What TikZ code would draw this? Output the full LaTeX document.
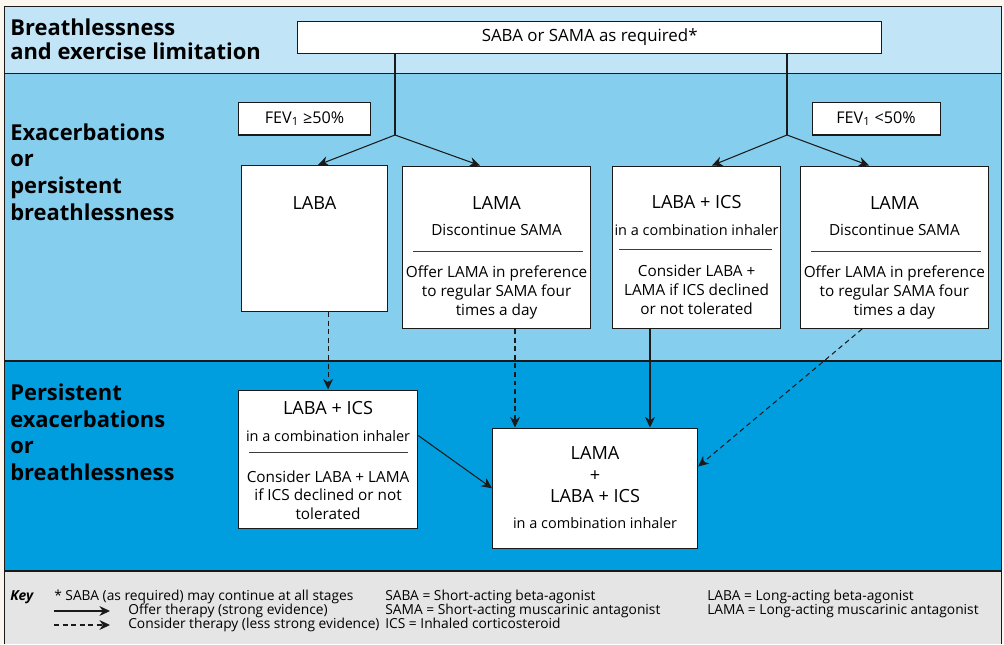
\documentclass[tikz,border=0pt]{standalone}
\usepackage{fontspec}
\setmainfont{Open Sans}
\usepackage{xcolor}
\definecolor{cPage}{HTML}{FBF7EE}
\definecolor{cBandA}{HTML}{C1E5F6}
\definecolor{cBandB}{HTML}{86CEEE}
\definecolor{cBandC}{HTML}{009DDF}
\definecolor{cKey}{HTML}{E5E5E5}
\definecolor{cLine}{HTML}{1A1A1A}
\usepackage{tikz}
\usetikzlibrary{positioning,arrows.meta,calc}
\newcommand{\keyfont}{\fontsize{9.8}{9.9}\selectfont\lineskiplimit-5pt\relax}
\tikzset{
  node-box/.style={draw=cLine,line width=0.8pt,fill=white,anchor=north west,inner sep=0pt},
  node-head/.style={anchor=base,inner sep=0pt,align=center,font=\fontsize{12.9}{15.2}\selectfont},
  node-note/.style={anchor=base,inner sep=0pt,align=center,font=\fontsize{10.9}{13.2}\selectfont},
  node-combi/.style={node-note,font=\fontsize{10.3}{13.2}\selectfont},
  band-title/.style={anchor=base west,inner sep=0pt,align=left,font=\bfseries\fontsize{15.6}{18.9}\selectfont},
  key-text/.style={anchor=base west,inner sep=0pt,align=left,font=\keyfont},
  rule-line/.style={draw=cLine!85,line width=0.7pt},
  band-line/.style={draw=cLine,line width=0.8pt},
  arrow/.style={-{Stealth[length=7.5pt,width=7pt,inset=2.4pt]},line width=0.75pt,draw=cLine},
  arrow-consider/.style={arrow,dash pattern=on 3.5pt off 2.6pt},
}

\begin{document}
\begin{tikzpicture}[x=0.025cm,y=-0.025cm]
  \useasboundingbox (0,0) rectangle (1004,644);
  % bands
  \fill[cPage] (0,0) rectangle (1004,644);
  \fill[cBandA] (4.7,6.7) rectangle (1001.7,73.3);
  \fill[cBandB] (4.7,73.3) rectangle (1001.7,361);
  \fill[cBandC] (4.7,361) rectangle (1001.7,571);
  \fill[cKey] (4.7,571) rectangle (1001.7,644);
  \draw[band-line] (4.7,644) -- (4.7,6.7) -- (1001.7,6.7) -- (1001.7,644);
  \foreach \y in {73.3,361,571}
    \draw[band-line] (4.7,\y) -- (1001.7,\y);

  % band titles (base = last line)
  \node[band-title,font=\bfseries\fontsize{15.6}{17.2}\selectfont] (title-a) at (10,59.3) {Breathlessness\\and exercise limitation};
  \node[band-title] (title-b) at (10,220) {Exacerbations\\or\\persistent\\breathlessness};
  \node[band-title] (title-c) at (10,480.2) {Persistent\\exacerbations\\or\\breathlessness};

  % first step
  \node[node-box,minimum width=146mm,minimum height=7.9mm,font=\fontsize{12}{14}\selectfont] (saba) at (297,21) {SABA or SAMA as required*};
  \node[node-box,minimum width=33mm,minimum height=8.1mm,font=\fontsize{11.5}{14}\selectfont] (fev-hi) at (238,102) {FEV\textsubscript{1} ≥50\%};
  \node[node-box,minimum width=32mm,minimum height=8.1mm,font=\fontsize{11.5}{14}\selectfont] (fev-lo) at (811.5,102) {FEV\textsubscript{1} <50\%};

  % second step
  \node[node-box,minimum width=36.4mm,minimum height=36.5mm] (laba) at (241,165) {};
  \node[node-box,minimum width=47mm,minimum height=40.6mm] (lama-a) at (402,165.5) {};
  \node[node-box,minimum width=42mm,minimum height=40.6mm] (labaics-a) at (612,165.5) {};
  \node[node-box,minimum width=46.9mm,minimum height=40.6mm] (lama-b) at (800,165.5) {};

  \node[node-head] (laba-h) at ($(laba.north)+(0,44)$) {LABA};
  \foreach \b in {lama-a,lama-b} {
    \node[node-head] (\b-h) at ($(\b.north)+(0,43.5)$) {LAMA};
    \node[node-note] (\b-s) at ($(\b.north)+(0,70)$) {Discontinue SAMA};
    \draw[rule-line] ($(\b.north west)+(11,85.5)$) -- ($(\b.north east)+(-8,85.5)$);
    \node[node-note] (\b-n) at ($(\b.north)+(0,149.5)$) {Offer LAMA in preference\\to regular SAMA four\\times a day};
  }
  \node[node-head] (labaics-a-h) at ($(labaics-a.north)+(0,43.2)$) {LABA + ICS};
  \node[node-combi] (labaics-a-s) at ($(labaics-a.north)+(0,69.5)$) {in a combination inhaler};
  \draw[rule-line] ($(labaics-a.north west)+(7,84)$) -- ($(labaics-a.north east)+(-9,84)$);
  \node[node-note] (labaics-a-n) at ($(labaics-a.north)+(0,148.5)$) {Consider LABA +\\LAMA if ICS declined\\or not tolerated};

  % third step
  \node[node-box,minimum width=44.75mm,minimum height=34.6mm] (labaics-b) at (238,389.5) {};
  \node[node-box,minimum width=51.25mm,minimum height=30.1mm] (triple) at (492,427.5) {};

  \node[node-head] (labaics-b-h) at ($(labaics-b.north)+(0,25)$) {LABA + ICS};
  \node[node-combi] (labaics-b-s) at ($(labaics-b.north)+(0,51.5)$) {in a combination inhaler};
  \draw[rule-line] ($(labaics-b.north west)+(11,63)$) -- ($(labaics-b.north east)+(-10,63)$);
  \node[node-note] (labaics-b-n) at ($(labaics-b.north)+(0,129.8)$) {Consider LABA + LAMA\\if ICS declined or not\\tolerated};
  \node[node-head] (triple-h) at ($(triple.north)+(0,75.2)$) {LAMA\\+\\LABA + ICS};
  \node[node-combi] (triple-s) at ($(triple.north)+(0,101)$) {in a combination inhaler};

  % connectors
  \coordinate (split-a) at (395,135);
  \coordinate (split-b) at (787,135);
  \draw[band-line,line width=0.75pt] (saba.south -| split-a) -- (split-a);
  \draw[band-line,line width=0.75pt] (saba.south -| split-b) -- (split-b);
  \draw[arrow] (split-a) -- ($(laba.north west)+(77,0)$);
  \draw[arrow] (split-a) -- ($(lama-a.north west)+(78,0)$);
  \draw[arrow] (split-b) -- ($(labaics-a.north west)+(100,0)$);
  \draw[arrow] (split-b) -- ($(lama-b.north west)+(69,0)$);

  \coordinate (in-a) at ($(triple.north west)+(23,0)$);
  \coordinate (in-b) at ($(triple.north west)+(158,0)$);
  \draw[arrow-consider] (laba.south -| labaics-b.north) -- (labaics-b.north);
  \draw[arrow-consider] (lama-a.south -| in-a) -- (in-a);
  \draw[arrow] (labaics-a.south -| in-b) -- (in-b);
  \draw[arrow-consider] ($(lama-b.south west)+(62,0)$) -- ($(triple.north east)+(0,39)$);
  \draw[arrow] ($(labaics-b.north east)+(0,46)$) -- (triple.west);

  % key
  \node[key-text,font=\keyfont\bfseries\itshape] (key) at (10,600.5) {Key};
  \node[key-text] (key-star) at (54,600.5) {* SABA (as required) may continue at all stages};
  \node[key-text] (key-arrows) at (128,628.5) {Offer therapy (strong evidence)\\Consider therapy (less strong evidence)};
  \coordinate (key-a0) at (54,611);
  \coordinate (key-a1) at (110,611);
  \coordinate (key-b0) at (54,625);
  \coordinate (key-b1) at (110,625);
  \draw[arrow] (key-a0) -- (key-a1);
  \draw[arrow-consider] (key-b0) -- (key-b1);
  \node[key-text] (key-short) at (385,628.5) {SABA = Short-acting beta-agonist\\SAMA = Short-acting muscarinic antagonist\\ICS = Inhaled corticosteroid};
  \node[key-text] (key-long) at (707,614.5) {LABA = Long-acting beta-agonist\\LAMA = Long-acting muscarinic antagonist};
\end{tikzpicture}
\end{document}
